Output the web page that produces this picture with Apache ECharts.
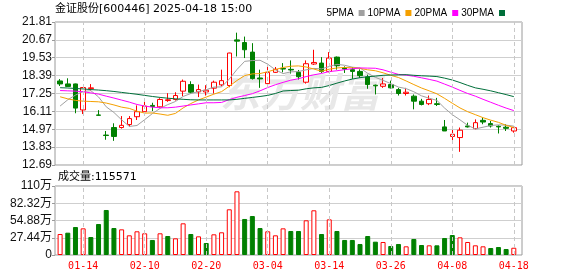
<!DOCTYPE html>
<html><head><meta charset="utf-8">
<script src="https://cdn.jsdelivr.net/npm/echarts@6/dist/echarts.min.js"></script>
<style>html,body{margin:0;padding:0;background:#fff}#c{width:578px;height:276px}</style>
</head><body><div id="c"></div>
<script>
const dates = ['01-09','01-10','01-13','01-14','01-15','01-16','01-17','01-20','01-21','01-22','01-23',
'02-10','02-11','02-12','02-13','02-14','02-17','02-18','02-19','02-20',
'02-21','02-24','02-25','02-26','02-27','02-28','03-03','03-04',
'03-05','03-06','03-07','03-10','03-11','03-12','03-13','03-14',
'03-17','03-18','03-19','03-20','03-21','03-24','03-25','03-26',
'03-27','03-28','03-31','04-01','04-02','04-03','04-07','04-08',
'04-09','04-10','04-11','04-14','04-15','04-16','04-17','04-18'];
const labelDates = ['01-14','02-10','02-20','03-04','03-14','03-26','04-08','04-18'];

const opens = [18.05,17.86,17.86,16.20,17.56,15.88,14.60,15.08,15.08,15.27,
15.77,16.09,16.49,16.40,16.80,16.87,17.40,17.82,17.35,17.35,
17.59,17.80,17.76,20.67,20.50,19.89,18.24,17.88,18.60,18.85,
18.79,18.60,17.97,19.13,19.19,18.66,19.57,18.88,18.77,18.66,
18.31,17.78,17.71,17.82,17.50,17.25,17.08,16.76,16.60,16.60,
15.12,14.51,14.44,15.18,15.01,15.54,15.33,15.16,15.10,14.86];
const closes = [17.86,17.70,16.32,17.63,17.61,15.86,14.57,14.51,15.22,15.65,
16.09,16.45,16.42,16.87,16.85,17.12,18.03,17.33,17.50,17.46,
17.97,18.07,19.83,20.59,20.04,18.20,18.18,18.60,18.79,18.81,
18.75,18.32,19.15,19.23,18.66,19.51,19.02,18.81,18.66,18.39,
17.82,17.74,17.86,17.61,17.25,17.33,16.76,16.55,16.87,16.55,
14.86,14.65,14.91,15.12,15.39,15.43,15.18,15.12,15.03,15.07];
const lows = [17.73,17.68,15.99,15.94,17.43,15.84,14.30,14.23,15.01,15.14,
15.56,16.03,16.13,16.34,16.72,16.80,17.08,17.25,17.02,17.12,
17.25,17.71,17.65,19.61,19.51,18.14,17.61,17.86,18.56,18.60,
18.52,18.14,17.88,19.07,18.56,18.60,18.77,18.56,18.18,18.24,
17.55,17.19,17.61,17.57,17.12,17.12,16.24,16.49,16.51,16.45,
14.86,14.23,13.53,15.08,14.97,15.29,15.08,14.70,14.86,14.75];
const highs = [18.17,18.22,17.88,17.66,17.85,16.19,14.86,15.35,15.81,15.81,
16.49,16.72,16.66,16.95,17.27,17.33,18.14,18.03,17.82,17.78,
18.07,18.77,19.85,21.13,20.88,20.46,18.77,18.98,18.94,19.19,
19.36,18.75,19.36,20.04,19.57,19.89,19.61,18.98,18.94,18.79,
18.45,17.82,18.24,18.07,17.61,17.61,17.19,16.91,17.12,16.97,
15.56,15.18,15.08,15.39,15.60,15.71,15.50,15.22,15.29,15.13];
const prevClose = 17.70;

const ma5 = [16.45,16.85,17.15,17.38,17.43,17.03,16.40,16.04,15.57,15.15,
15.21,15.58,15.97,16.30,16.54,16.74,17.06,17.25,17.37,17.49,
17.66,17.67,18.17,18.78,19.30,19.35,19.37,19.12,18.76,18.52,
18.63,18.65,18.76,18.85,18.82,18.97,19.11,19.05,18.93,18.88,
18.54,18.28,18.09,17.88,17.66,17.56,17.36,17.10,16.95,16.81,
16.32,15.90,15.57,15.22,14.99,15.10,15.21,15.25,15.23,15.17];
const ma10 = [17.04,16.91,16.81,16.76,16.74,16.72,16.64,16.52,16.38,16.30,
16.12,16.00,16.01,15.94,15.86,15.98,16.33,16.61,16.84,17.02,
17.21,17.37,17.71,18.08,18.39,18.50,18.52,18.64,18.78,18.91,
18.99,19.01,18.94,18.81,18.67,18.80,18.88,18.91,18.89,18.85,
18.76,18.70,18.57,18.41,18.27,18.05,17.82,17.60,17.42,17.23,
16.94,16.63,16.33,16.09,15.90,15.71,15.55,15.41,15.22,15.08];
const ma20 = [17.44,17.42,17.40,17.36,17.29,17.21,17.08,16.96,16.83,16.70,
16.55,16.45,16.38,16.34,16.34,16.38,16.45,16.52,16.59,16.66,
16.66,16.68,16.86,17.01,17.12,17.24,17.42,17.63,17.81,17.96,
18.10,18.19,18.33,18.44,18.53,18.65,18.70,18.77,18.83,18.88,
18.87,18.86,18.76,18.61,18.47,18.42,18.35,18.25,18.15,18.04,
17.85,17.66,17.45,17.25,17.08,16.88,16.69,16.50,16.32,16.16];
const ma30 = [17.62,17.60,17.57,17.54,17.50,17.47,17.43,17.38,17.32,17.26,
17.20,17.13,17.06,17.00,16.95,16.91,16.88,16.85,16.84,16.84,
16.84,16.84,16.84,16.88,16.94,17.00,17.06,17.13,17.25,17.41,
17.44,17.46,17.55,17.61,17.64,17.76,17.91,18.05,18.17,18.26,
18.32,18.36,18.41,18.43,18.44,18.45,18.41,18.38,18.36,18.33,
18.23,18.11,17.95,17.77,17.61,17.52,17.42,17.30,17.18,17.05];

const volumes = [334000,355000,445000,424000,286000,493000,716000,429000,408000,313000,
377000,345000,239000,345000,302000,265000,504000,334000,297000,191000,
329000,361000,727000,1013000,573000,620000,429000,377000,313000,424000,
382000,382000,552000,711000,334000,567000,382000,239000,239000,175000,
302000,212000,207000,143000,175000,138000,255000,159000,154000,154000,
270000,318000,281000,207000,154000,138000,111000,127000,95000,115571];

const priceLabels = ['12.69','13.83','14.97','16.11','17.25','18.39','19.53','20.67','21.81'];
const volLabels = ['0','27.44万','54.88万','82.32万','110万'];
const maNames = ['5PMA','10PMA','20PMA','30PMA'];
const maColors = ['#a0a0a0','#f5a000','#ff00ff','#006f3a'];
const maData = [ma5, ma10, ma20, ma30];

const UP = '#ff0000', DOWN = '#008000';
const PLOT_L = 55, PLOT_W = 467;
const DATA_L = 56.25, DATA_W = 461.4;
const MAIN_T = 22, MAIN_H = 143, VOL_T = 186, VOL_H = 69;

const chart = echarts.init(document.getElementById('c'), null, {renderer: 'canvas'});
const markDash = {
  silent: true, symbol: ['none','none'], label: {show: false}, animation: false,
  lineStyle: {color: '#c8c8c8', type: [4,3], width: 1},
  emphasis: {disabled: true},
  data: labelDates.map(d => ({xAxis: d}))
};
const volData = volumes.map((v, i) => {
  const pc = i === 0 ? prevClose : closes[i-1];
  const up = closes[i] >= pc;
  return {value: v, itemStyle: up ? {color: '#ffffff', borderColor: UP, borderWidth: 1} : {color: DOWN, borderColor: DOWN, borderWidth: 1}};
});
const labelFont = 'Liberation Sans, Noto Sans CJK SC';

chart.setOption({
  animation: false,
  backgroundColor: '#ffffff',
  legend: {
    data: maNames, right: 68, top: 3, align: 'right', icon: 'rect',
    itemWidth: 6, itemHeight: 6, itemGap: 3, selectedMode: false,
    textStyle: {fontFamily: 'Liberation Sans', fontSize: 10, color: '#000'}
  },
  grid: [
    {left: PLOT_L, top: MAIN_T, width: PLOT_W, height: MAIN_H, show: true, borderColor: '#9a9a9a', borderWidth: 1, outerBoundsMode: 'none'},
    {left: DATA_L, top: MAIN_T, width: DATA_W, height: MAIN_H, outerBoundsMode: 'none'},
    {left: PLOT_L, top: VOL_T, width: PLOT_W, height: VOL_H, show: true, borderColor: '#9a9a9a', borderWidth: 1, outerBoundsMode: 'none'},
    {left: DATA_L, top: VOL_T, width: DATA_W, height: VOL_H, outerBoundsMode: 'none'}
  ],
  xAxis: [
    {gridIndex: 0, type: 'value', min: 0, max: 1, show: false},
    {gridIndex: 1, type: 'category', data: dates, boundaryGap: true,
      axisLine: {show: false}, axisTick: {show: false}, axisLabel: {show: false}, splitLine: {show: false}},
    {gridIndex: 2, type: 'value', min: 0, max: 1, show: false},
    {gridIndex: 3, type: 'category', data: dates, boundaryGap: true,
      axisLine: {show: false}, axisTick: {show: false}, splitLine: {show: false},
      axisLabel: {interval: (idx, val) => labelDates.indexOf(val) >= 0, color: '#ff0000',
        fontFamily: 'DejaVu Sans Mono', fontSize: 10, margin: 6}}
  ],
  yAxis: [
    {gridIndex: 0, type: 'value', min: 12.69, max: 21.81, interval: 1.14,
      axisLine: {show: false}, axisTick: {show: true, length: 3, lineStyle: {color: '#9a9a9a'}},
      axisLabel: {formatter: (v, i) => priceLabels[i], fontFamily: labelFont, fontSize: 12, color: '#111', margin: 3},
      splitLine: {show: true, lineStyle: {color: '#cfcfcf', width: 1}}},
    {gridIndex: 1, type: 'value', min: 12.69, max: 21.81, show: false},
    {gridIndex: 2, type: 'value', min: 0, max: 1097600, interval: 274400,
      axisLine: {show: false}, axisTick: {show: true, length: 3, lineStyle: {color: '#9a9a9a'}},
      axisLabel: {formatter: (v, i) => volLabels[i], fontFamily: labelFont, fontSize: 12, color: '#111', margin: 3},
      splitLine: {show: true, lineStyle: {color: '#cfcfcf', width: 1}}},
    {gridIndex: 3, type: 'value', min: 0, max: 1097600, show: false}
  ],
  graphic: [
    {type: 'text', x: 55, y: 9, z: 10, style: {text: '金证股份[600446] 2025-04-18 15:00', fontSize: 11,
      fontFamily: '"DejaVu Sans", "Noto Sans CJK SC"', fill: '#000', verticalAlign: 'middle'}},
    {type: 'text', x: 58, y: 177, z: 10, style: {text: '成交量:115571', fontSize: 11,
      fontFamily: '"DejaVu Sans", "Noto Sans CJK SC"', fill: '#000', verticalAlign: 'middle'}},
    {type: 'text', x: 300, y: 92, z: 1, style: {text: '东方财富', fontSize: 40, fontWeight: 'bold', fontStyle: 'italic',
      fontFamily: '"Noto Sans CJK SC"', fill: '#e8e8e8', align: 'center', verticalAlign: 'middle'}}
  ],
  series: [
    {type: 'candlestick', name: 'K', xAxisIndex: 1, yAxisIndex: 1, barWidth: 5, z: 3,
      data: dates.map((d, i) => [opens[i], closes[i], lows[i], highs[i]]),
      itemStyle: {color: '#ffffff', color0: DOWN, borderColor: UP, borderColor0: DOWN, borderWidth: 1},
      markLine: markDash},
    ...maNames.map((n, k) => ({
      type: 'line', name: n, xAxisIndex: 1, yAxisIndex: 1, data: maData[k], z: 4,
      symbol: 'none', showSymbol: false, color: maColors[k],
      lineStyle: {color: maColors[k], width: 1}, emphasis: {disabled: true}
    })),
    {type: 'bar', name: 'VOL', xAxisIndex: 3, yAxisIndex: 3, barWidth: 5, data: volData, z: 3,
      markLine: markDash}
  ]
});
</script></body></html>
